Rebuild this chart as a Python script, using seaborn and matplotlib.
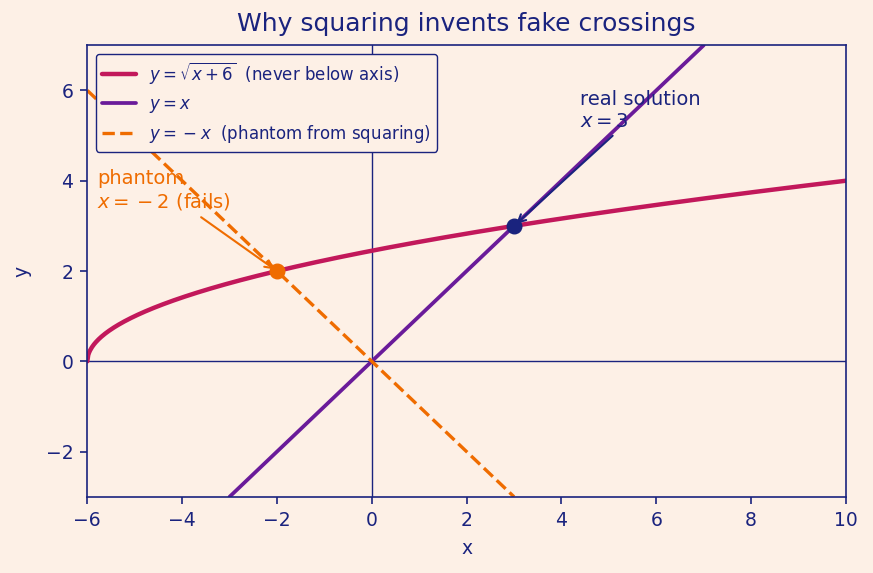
import numpy as np
import pandas as pd
import matplotlib
matplotlib.use("Agg")
import matplotlib.pyplot as plt
import seaborn as sns

# data
x_range = [-6, 10]
y_range = [-3, 7]
real_sol = (3, 3)
phantom_sol = (-2, 2)
x_ticks = [-6, -4, -2, 0, 2, 4, 6, 8, 10]
y_ticks = [-2, 0, 2, 4, 6]

BG = "#fdf0e6"
NAVY = "#1a237e"
CRIMSON = "#c2185b"
PURPLE = "#6a1b9a"
ORANGE = "#ef6c00"

sns.set_theme(style="white")
plt.rcParams.update({
    "figure.facecolor": BG, "axes.facecolor": BG,
    "axes.edgecolor": NAVY, "axes.labelcolor": NAVY,
    "xtick.color": NAVY, "ytick.color": NAVY, "text.color": NAVY,
})
plt.rcParams['font.family'] = ['DejaVu Sans']

xs = np.linspace(-6, 10, 800)
df_sqrt = pd.DataFrame({"x": xs, "y": np.sqrt(xs + 6)})
xl = np.linspace(-3, 7, 50)
df_id = pd.DataFrame({"x": xl, "y": xl})
xn = np.linspace(-6, 3, 50)
df_neg = pd.DataFrame({"x": xn, "y": -xn})

fig, ax = plt.subplots(figsize=(8.73, 5.73), dpi=100)
ax.axhline(0, color=NAVY, lw=1, zorder=1)
ax.axvline(0, color=NAVY, lw=1, zorder=1)

sns.lineplot(data=df_sqrt, x="x", y="y", ax=ax, color=CRIMSON, lw=3.2,
             label=r"$y=\sqrt{x+6}$  (never below axis)", sort=False)
sns.lineplot(data=df_id, x="x", y="y", ax=ax, color=PURPLE, lw=2.7,
             label=r"$y=x$", sort=False)
sns.lineplot(data=df_neg, x="x", y="y", ax=ax, color=ORANGE, lw=2.4,
             linestyle="--", label=r"$y={}-x$  (phantom from squaring)", sort=False)

ax.scatter([real_sol[0]], [real_sol[1]], s=110, color=NAVY, zorder=5)
ax.scatter([phantom_sol[0]], [phantom_sol[1]], s=110, color=ORANGE, zorder=5)

ax.annotate("real solution\n$x=3$", xy=real_sol, xytext=(4.4, 5.2),
            color=NAVY, fontsize=14,
            arrowprops=dict(arrowstyle="->", color=NAVY, lw=1.5))
ax.annotate("phantom\n$x={}-2$ (fails)", xy=phantom_sol, xytext=(-5.8, 3.4),
            color=ORANGE, fontsize=14,
            arrowprops=dict(arrowstyle="->", color=ORANGE, lw=1.5))

ax.set_xlim(*x_range)
ax.set_ylim(*y_range)
ax.set_xticks(x_ticks)
ax.set_yticks(y_ticks)
ax.set_xticklabels([f"{t}".replace("-", "\u2212") for t in x_ticks])
ax.set_yticklabels([f"{t}".replace("-", "\u2212") for t in y_ticks])
ax.tick_params(labelsize=13.5, length=5, width=1.2, pad=5, color=NAVY, bottom=True, left=True)
ax.set_xlabel("x", fontsize=13.5, labelpad=7)
ax.set_ylabel("y", fontsize=13.5, labelpad=10)
ax.set_title("Why squaring invents fake crossings", fontsize=18, color=NAVY, pad=10)
for s in ax.spines.values():
    s.set_color(NAVY)
    s.set_linewidth(1.2)

leg = ax.legend(loc="upper left", fontsize=12, frameon=True, facecolor=BG,
                edgecolor=NAVY, framealpha=1)
for t in leg.get_texts():
    t.set_color(NAVY)

fig.subplots_adjust(left=0.1, right=0.969, top=0.921, bottom=0.133)
fig.savefig("out.png", dpi=100, facecolor=BG)
